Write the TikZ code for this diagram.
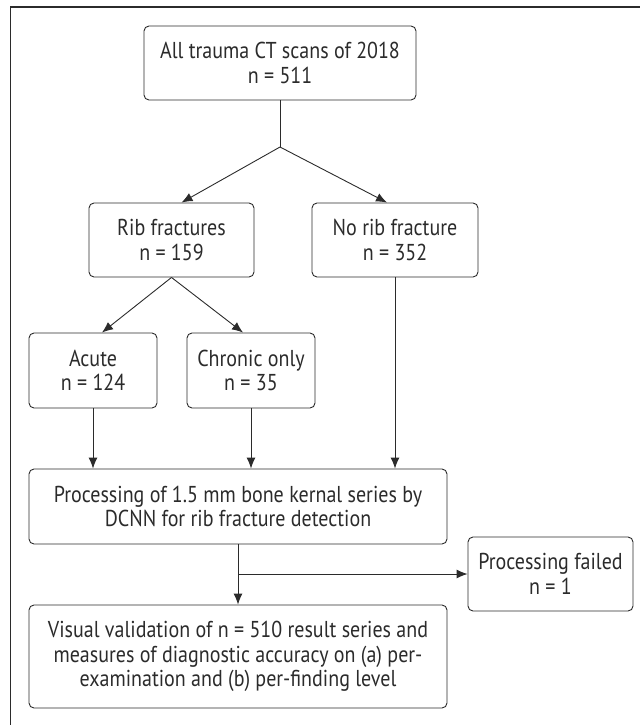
\documentclass[tikz,border=0pt]{standalone}
\usepackage{fontspec}
\setmainfont{PT Sans}[FakeStretch=0.87]
\usetikzlibrary{arrows.meta,calc}
\definecolor{ink}{HTML}{2B2B2B}
\tikzset{
  box/.style={draw=ink, line width=0.9pt, rounded corners=5pt, align=center,
    text=ink, inner sep=0pt, font=\fontsize{23}{24.5}\selectfont},
  arr/.style={draw=ink, line width=0.9pt, -{Latex[length=11pt,width=9pt]}},
  ln/.style={draw=ink, line width=0.9pt},
}
\begin{document}
\begin{tikzpicture}[x=1pt,y=-1pt]
\useasboundingbox (0,0) rectangle (640,725);
\draw[draw=ink, line width=1.4pt] (10.5,725) -- (10.5,7) -- (640,7);

\node[box, minimum width=272pt, minimum height=74pt] (top) at (280,63)
  {All trauma CT scans of 2018\\n = 511};
\node[box, minimum width=165pt, minimum height=74pt] (rib) at (171.5,240)
  {Rib fractures\\n = 159};
\node[box, minimum width=166pt, minimum height=74pt] (norib) at (395,240)
  {No rib fracture\\n = 352};
\node[box, minimum width=128pt, minimum height=75pt] (acute) at (93,370.5)
  {Acute\\n = 124};
\node[box, minimum width=128pt, minimum height=75pt] (chronic) at (251,370.5)
  {Chronic only\\n = 35};
\node[box, minimum width=418pt, minimum height=75pt] (proc) at (238,506.5)
  {Processing of 1.5 mm bone kernal series by\\DCNN for rib fracture detection};
\node[box, minimum width=165pt, minimum height=74pt] (failed) at (550.5,574)
  {Processing failed\\n = 1};
\node[box, minimum width=418pt, minimum height=103pt] (valid) at (238,656.5)
  {Visual validation of n = 510 result series and\\measures of diagnostic accuracy on (a) per-\\examination and (b) per-finding level};

\coordinate (J) at (top.south |- 0,147);
\draw[ln] (top.south) -- (J);
\draw[arr] (J) -- ([xshift=10pt]rib.north);
\draw[arr] (J) -- ([xshift=-8pt]norib.north);
\draw[arr] (rib.south) -- ([xshift=9pt]acute.north);
\draw[arr] (rib.south) -- ([xshift=-8pt]chronic.north);
\draw[arr] (acute.south) -- (acute.south |- proc.north);
\draw[arr] (chronic.south) -- (chronic.south |- proc.north);
\draw[arr] (norib.south) -- (norib.south |- proc.north);
\coordinate (B) at (proc.south |- failed.west);
\draw[arr] (proc.south) -- (valid.north);
\draw[arr] (B) -- (failed.west);
\end{tikzpicture}
\end{document}
